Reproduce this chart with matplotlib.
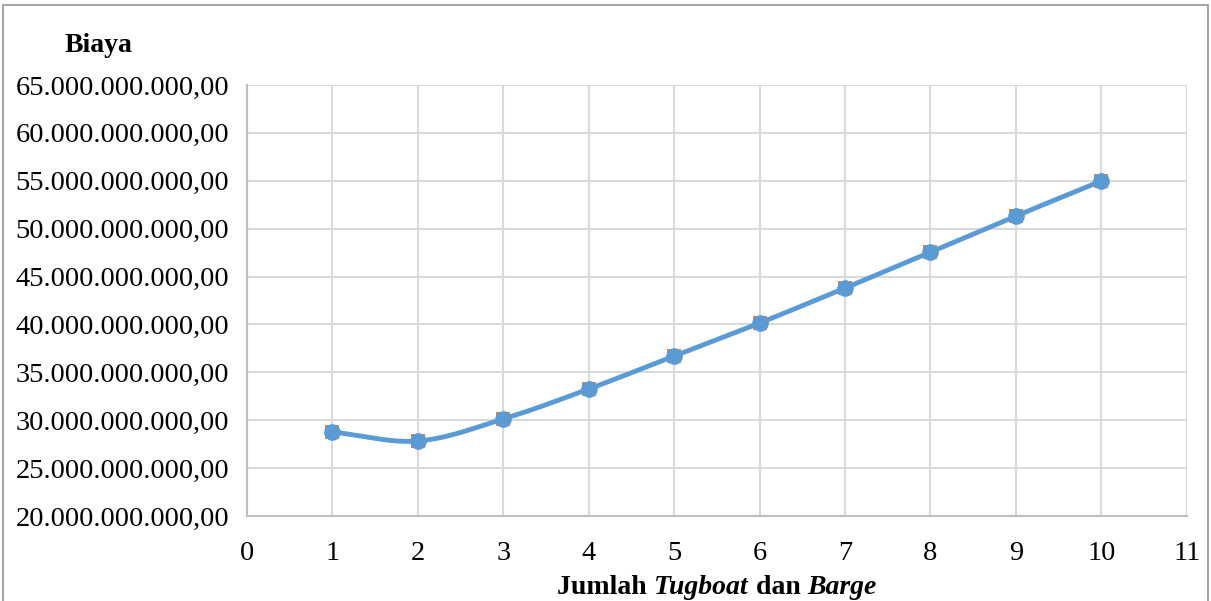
import numpy as np
import matplotlib.pyplot as plt
from matplotlib.patches import Rectangle

plt.rcParams['font.family'] = ['Liberation Serif', 'DejaVu Serif']

# data
jumlah = [1, 2, 3, 4, 5, 6, 7, 8, 9, 10]
biaya = [28.77e9, 27.83e9, 30.13e9, 33.26e9, 36.70e9,
         40.15e9, 43.80e9, 47.56e9, 51.32e9, 54.98e9]
x_ticks = list(range(0, 12))
y_ticks = [20e9, 25e9, 30e9, 35e9, 40e9, 45e9, 50e9, 55e9, 60e9, 65e9]


def catmull_rom(x, y, n=30):
    # smoothed line like Excel's "smoothed line" option
    x = np.asarray(x, float)
    y = np.asarray(y, float)
    px = np.concatenate([[2 * x[0] - x[1]], x, [2 * x[-1] - x[-2]]])
    py = np.concatenate([[2 * y[0] - y[1]], y, [2 * y[-1] - y[-2]]])
    xs, ys = [], []
    t = np.linspace(0, 1, n)
    for i in range(1, len(px) - 2):
        for p, out in ((px, xs), (py, ys)):
            p0, p1, p2, p3 = p[i - 1], p[i], p[i + 1], p[i + 2]
            out.extend(0.5 * ((2 * p1) + (-p0 + p2) * t
                              + (2 * p0 - 5 * p1 + 4 * p2 - p3) * t ** 2
                              + (-p0 + 3 * p1 - 3 * p2 + p3) * t ** 3))
    return np.array(xs), np.array(ys)


def fmt_id(v):
    s = f"{v:,.2f}"
    return s.replace(',', 'X').replace('.', ',').replace('X', '.')


fig = plt.figure(figsize=(12.11, 6.01), dpi=100)
ax = fig.add_axes([0.204, 0.1414, 0.776, 0.7172])

ax.plot(jumlah, biaya, 's', color='#ED7D31', markersize=10.5, mew=0, zorder=3)
sx, sy = catmull_rom(jumlah, biaya)
ax.plot(sx, sy, '-', color='#5B9BD5', lw=3.5, zorder=4)
ax.plot(jumlah, biaya, 'o', color='#5B9BD5', markersize=12, mew=0, zorder=5)

ax.set_xlim(0, 11)
ax.set_ylim(20e9, 65e9)
ax.set_xticks(x_ticks)
ax.set_yticks(y_ticks)
ax.set_yticklabels([fmt_id(v) for v in y_ticks])
ax.tick_params(axis='both', length=0, labelsize=20.5)
ax.tick_params(axis='y', pad=13)
ax.tick_params(axis='x', pad=18)
ax.grid(True, color='#d9d9d9', lw=1.5)
ax.set_axisbelow(True)
for s in ['top', 'right']:
    ax.spines[s].set_visible(False)
for s in ['left', 'bottom']:
    ax.spines[s].set_color('#bfbfbf')
    ax.spines[s].set_linewidth(1.5)

fig.text(65 / 1211, 1 - 45 / 601, 'Biaya', fontsize=20, fontweight='bold',
         ha='left', va='center')

# x axis title with italic words
pieces = [('Jumlah ', 'normal'), ('Tugboat', 'italic'), (' dan ', 'normal'), ('Barge', 'italic')]
fig.canvas.draw()
r = fig.canvas.get_renderer()
texts = []
for s, st in pieces:
    t = fig.text(0, 1 - 588 / 601, s, fontsize=20, fontweight='bold', style=st,
                 ha='left', va='center')
    texts.append(t)
widths = [t.get_window_extent(r).width for t in texts]
total = sum(widths)
x0 = 717 - total / 2
for t, w in zip(texts, widths):
    t.set_x(x0 / 1211)
    x0 += w

# chart border
fig.patches.append(Rectangle((3 / 1211, -0.1), 1205 / 1211, 1.1 - 5 / 601,
                             transform=fig.transFigure, fill=False,
                             edgecolor='#a6a6a6', lw=1.5))

fig.savefig('out.png', dpi=100)
